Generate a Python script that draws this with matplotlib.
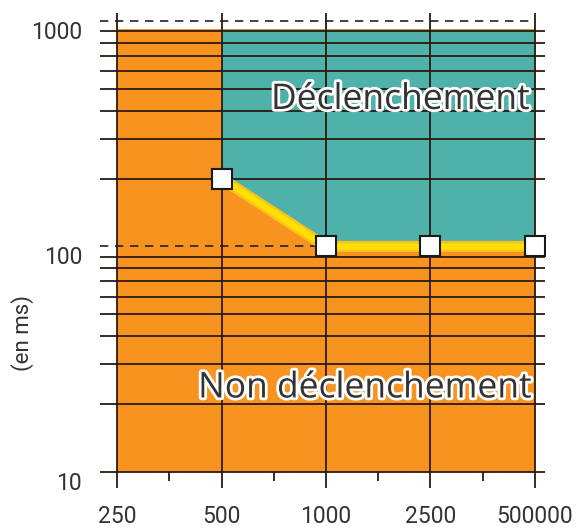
import matplotlib
matplotlib.use("Agg")
import matplotlib.pyplot as plt
import matplotlib.patheffects as pe
import numpy as np

# ---- data ----
x_labels = ["250", "500", "1000", "2500", "500000"]
threshold_idx = [1, 2, 3, 4]            # positions of threshold points
threshold_ms = [200, 100, 100, 100]     # tripping time (ms)
marker_idx = [1, 2, 3, 4]
marker_ms = [200, 100, 100, 100]
y_ticks = [10, 100, 1000]
grid_minor = [20, 30, 40, 50, 60, 70, 80, 90, 200, 300, 400, 500, 600, 700, 800, 900]
fill_top = 920
fill_bottom = 10

ORANGE = "#f7931e"
TEAL = "#4fb2aa"
YELLOW = "#ffe000"
TXT = "#333333"
LINE = "#2a1a10"

plt.rcParams['font.family'] = ['Roboto', 'DejaVu Sans']

fig = plt.figure(figsize=(5.76, 5.28), dpi=100)
ax = fig.add_axes([100/576, 40/528, 445/576, 475/528])
ax.set_yscale('log')
ax.set_xlim(-0.163, 4.096)
ax.set_ylim(8.49, 1085)
for s in ax.spines.values():
    s.set_visible(False)

n = len(x_labels)
xs = np.arange(n)

# orange background
ax.fill_between([0, n - 1], fill_bottom, fill_top, color=ORANGE, lw=0, zorder=1)
# teal tripping zone
ax.fill_between(threshold_idx, threshold_ms, fill_top, color=TEAL, lw=0, zorder=2)

# horizontal grid lines
ax.hlines(grid_minor, -0.163, 4.096, colors=LINE, lw=1.3, zorder=3)
ax.hlines([10], -0.163, 4.096, colors=LINE, lw=1.3, zorder=3)
ax.hlines([1000], -0.163, n - 1, colors="#222222", lw=1.2, linestyles=(0, (5, 4)), zorder=3)
ax.hlines([100], -0.163, 2, colors="#222222", lw=1.2, linestyles=(0, (5, 4)), zorder=3)

# vertical lines
ax.vlines(xs, 8.49, 1085, colors=LINE, lw=1.3, zorder=3)
ax.vlines(xs[:-1] + 0.5, 9.1, 10, colors=LINE, lw=1.3, zorder=3)

# threshold curve
ax.plot(threshold_idx, threshold_ms, color="#ffc21a", lw=8, solid_capstyle='butt', zorder=4)
ax.plot(threshold_idx, threshold_ms, color=YELLOW, lw=4.5, solid_capstyle='butt', zorder=5)
ax.plot(marker_idx, marker_ms, ls='none', marker='s', ms=15, mfc='white', mec='#1a1a1a',
        mew=1.5, zorder=6)

# ticks
ax.set_xticks(xs)
ax.set_xticklabels(x_labels)
ax.set_yticks(y_ticks)
ax.set_yticklabels([str(v) for v in y_ticks])
ax.yaxis.set_minor_locator(matplotlib.ticker.NullLocator())
ax.tick_params(axis='both', length=0, labelsize=16.5, labelcolor=TXT)
ax.tick_params(axis='x', pad=12)
ax.tick_params(axis='y', pad=13)
for lbl in ax.get_yticklabels():
    lbl.set_va('top')

fig.text(23/576, 1 - 333/528, "(en ms)", rotation=90, ha='center', va='center',
         fontsize=16, color=TXT)

stroke = [pe.withStroke(linewidth=4, foreground='white')]
ax.text(2.71, 10 ** (3 - (100 - 21) / 225.5), "Déclenchement", ha='center', va='center',
        fontsize=25.5, color=TXT, family=['Open Sans', 'DejaVu Sans'], path_effects=stroke, zorder=7)
ax.text(2.37, 10 ** (2 - (388 - 246) / 225.5), "Non déclenchement", ha='center', va='center',
        fontsize=25.5, color=TXT, family=['Open Sans', 'DejaVu Sans'], path_effects=stroke, zorder=7)

fig.savefig("out.png", dpi=100)
